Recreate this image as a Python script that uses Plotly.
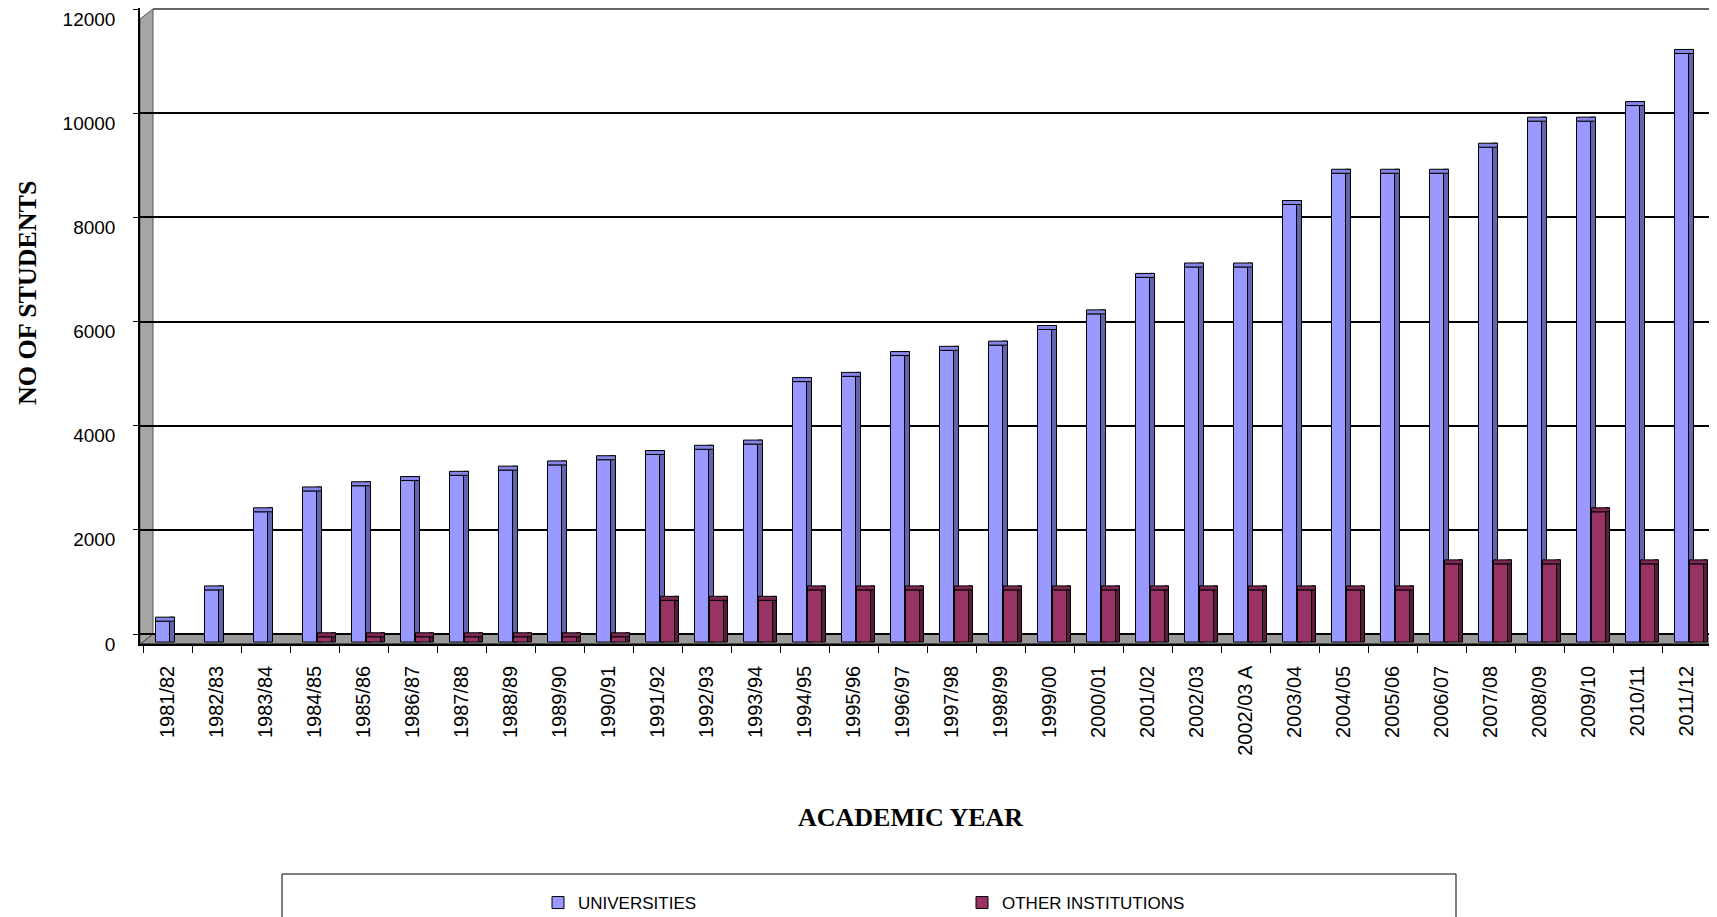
import plotly.graph_objects as go

years = ["1981/82", "1982/83", "1983/84", "1984/85", "1985/86", "1986/87", "1987/88",
         "1988/89", "1989/90", "1990/91", "1991/92", "1992/93", "1993/94", "1994/95",
         "1995/96", "1996/97", "1997/98", "1998/99", "1999/00", "2000/01", "2001/02",
         "2002/03", "2002/03 A", "2003/04", "2004/05", "2005/06", "2006/07", "2007/08",
         "2008/09", "2009/10", "2010/11", "2011/12"]

universities = [400, 1000, 2500, 2900, 3000, 3100, 3200, 3300, 3400, 3500, 3600, 3700,
                3800, 5000, 5100, 5500, 5600, 5700, 6000, 6300, 7000, 7200, 7200, 8400,
                9000, 9000, 9000, 9500, 10000, 10000, 10300, 11300]
other_institutions = [0, 0, 0, 100, 100, 100, 100, 100, 100, 100, 800, 800, 800, 1000,
                      1000, 1000, 1000, 1000, 1000, 1000, 1000, 1000, 1000, 1000, 1000,
                      1000, 1500, 1500, 1500, 2500, 1500, 1500]

# page body has an 8px margin, so the figure is 8px smaller than the window
W, H = 1709, 909
L, R, T, B = 132, 0, 0, 273
pw = W - L - R
ph = H - T - B
ymin = -192
ymax = 12019.2
upp = (ymax - ymin) / ph          # value units per pixel
cat_w = 49.0
x0 = -(159.5 - L) / cat_w
fx = 13 / pw

front_base = -8 * upp              # bars stand on the front edge of the floor
depth = 4 * upp                    # 3-D depth of the bar tops


def c(px):
    return px / cat_w


def px_x(x):
    return (x - L) / pw


def px_y(y):
    return (T + ph - y) / ph


def bar3d(values, name, front, side, top, off, w_front, w_side, legend):
    vals = [v if v > 0 else None for v in values]
    side_len = [v + depth if v else None for v in vals]
    tops = [v + front_base if v else None for v in vals]
    caps = [depth if v else None for v in vals]
    line = dict(color="#000000", width=1)
    return [
        go.Bar(x=years, y=side_len, base=front_base, offset=c(off + w_front), width=c(w_side),
               marker=dict(color=side, line=line), showlegend=False, hoverinfo="skip"),
        go.Bar(x=years, y=vals, base=front_base, offset=c(off), width=c(w_front), name=name,
               marker=dict(color=front, line=line), showlegend=legend),
        go.Bar(x=years, y=caps, base=tops, offset=c(off), width=c(w_front + w_side),
               marker=dict(color=top, line=line), showlegend=False, hoverinfo="skip"),
    ]


fig = go.Figure()
for tr in bar3d(universities, "UNIVERSITIES", "#9999FF", "#6363B0", "#8585E6", -12, 14, 5, True):
    fig.add_trace(tr)
for tr in bar3d(other_institutions, "OTHER INSTITUTIONS", "#993366", "#5A1B3B", "#7D2953", 3, 14, 4, True):
    fig.add_trace(tr)

fig.update_layout(
    width=W, height=H,
    margin=dict(l=L, r=R, t=T, b=B, autoexpand=False),
    paper_bgcolor="white", plot_bgcolor="white",
    barmode="overlay",
    font=dict(family="Liberation Sans, Arial, sans-serif", color="#000000"),
    showlegend=True,
    legend=dict(orientation="h", x=px_x(530), y=px_y(895), xanchor="left", yanchor="middle",
                entrywidth=379, entrywidthmode="pixels", font=dict(size=17),
                bgcolor="rgba(0,0,0,0)", traceorder="normal"),
    xaxis=dict(type="category", range=[x0, x0 + pw / cat_w], tickangle=-90,
               showline=True, linecolor="#000000", linewidth=1.5,
               ticks="outside", ticklen=7, tickcolor="#000000", tickson="boundaries",
               ticklabelstandoff=12,
               tickfont=dict(size=20, family="Liberation Sans, Arial, sans-serif"),
               showgrid=False, fixedrange=True),
    yaxis=dict(range=[ymin, ymax], tick0=0, dtick=2000, showgrid=True,
               gridcolor="#000000", gridwidth=1.5, zeroline=True, zerolinecolor="#000000",
               zerolinewidth=1.5,
               showline=True, linecolor="#000000", linewidth=1.5,
               ticks="outside", ticklen=5, tickcolor="#000000",
               ticklabelstandoff=14, ticklabelshift=10,
               tickfont=dict(size=19), tickformat="d"),
)

fig.add_annotation(text="ACADEMIC YEAR", xref="paper", yref="paper",
                   x=px_x(902), y=px_y(809), xanchor="center", yanchor="middle",
                   showarrow=False,
                   font=dict(family="Liberation Serif, Times New Roman, serif", size=26,
                             weight="bold", color="#000000"))
fig.add_annotation(text="NO OF STUDENTS", xref="paper", yref="paper", textangle=-90,
                   x=px_x(19), y=px_y(285), xanchor="center", yanchor="middle",
                   showarrow=False,
                   font=dict(family="Liberation Serif, Times New Roman, serif", size=26,
                             weight="bold", color="#000000"))

# top grid line of the back wall
fig.add_shape(type="line", xref="paper", yref="y", layer="between",
              x0=fx, x1=1, y0=12000, y1=12000, line=dict(color="#333333", width=1.5))
# floor
fig.add_shape(type="path", xref="paper", yref="y", layer="between",
              path=f"M 0,{ymin} L {1 - 7/pw},{ymin} L 1,0 L {fx},0 Z",
              fillcolor="#999999", line=dict(color="#000000", width=1))
# left wall
fig.add_shape(type="path", xref="paper", yref="y", layer="between",
              path=f"M 0,{ymin} L {fx},0 L {fx},12000 L 0,{12000 + ymin} Z",
              fillcolor="#A6A6A6", line=dict(color="#555555", width=1))
# legend frame
fig.add_shape(type="rect", xref="paper", yref="paper", layer="above",
              x0=px_x(274), x1=px_x(1448), y0=px_y(930), y1=px_y(866),
              fillcolor="rgba(0,0,0,0)", line=dict(color="#000000", width=1))

fig.write_html("out.html")
